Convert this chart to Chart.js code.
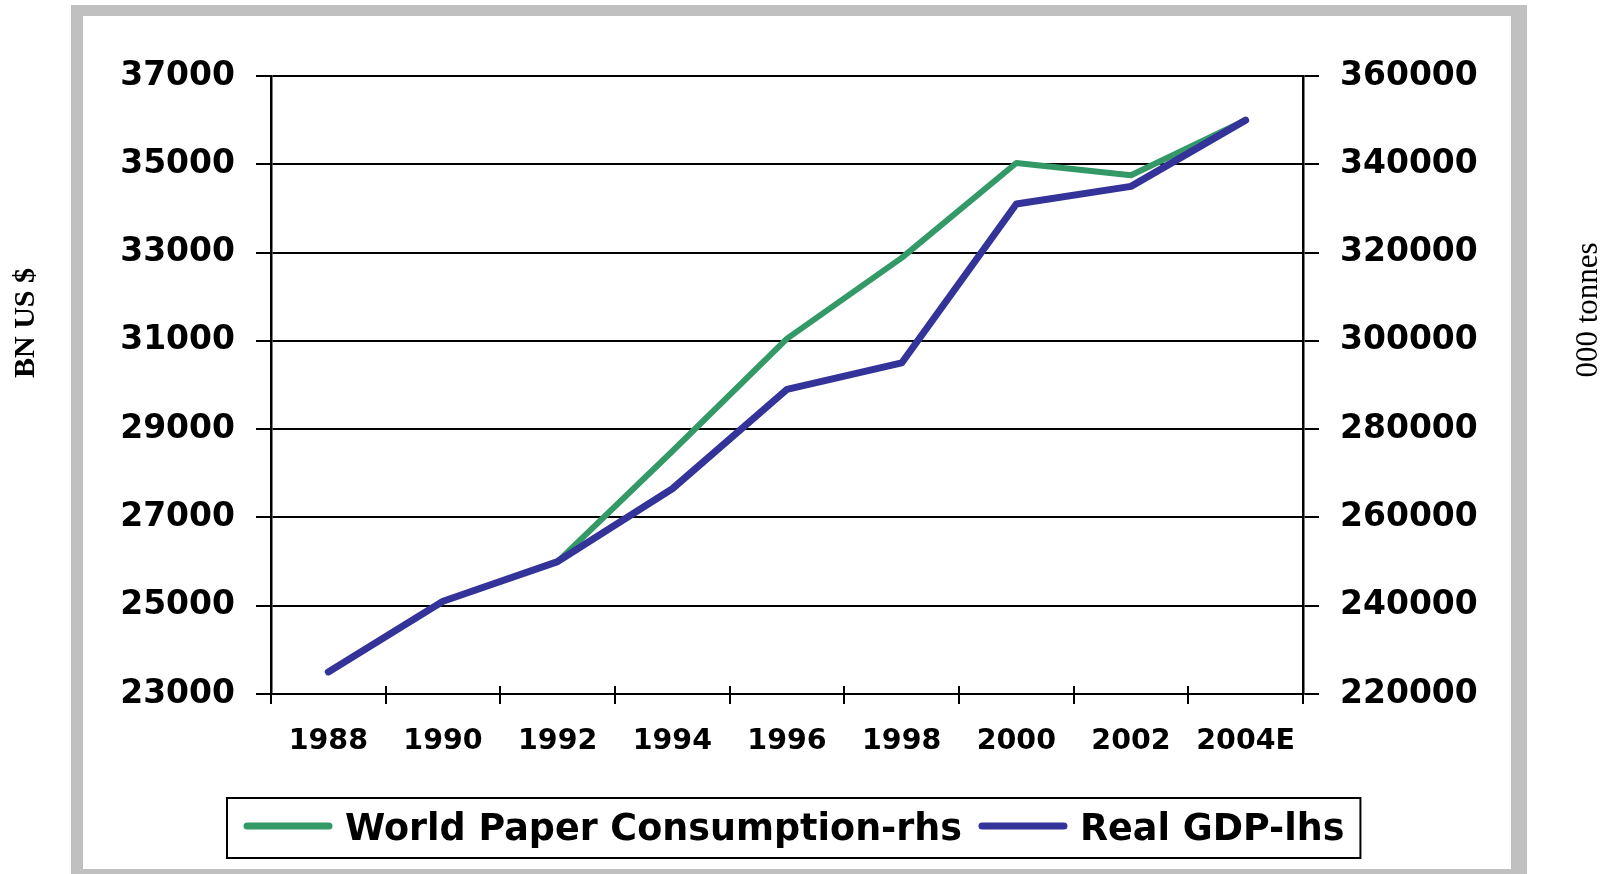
<!DOCTYPE html>
<html>
<head>
<meta charset="utf-8">
<script src="https://cdn.jsdelivr.net/npm/chart.js@4.4.0/dist/chart.umd.min.js"></script>
<style>
    html, body { margin: 0; padding: 0; background: #fff; }
    canvas { display: block; }
</style>
</head>
<body>
<canvas id="paperChart" width="1604" height="874"></canvas>
<script>
// Data
const years = ["1988", "1990", "1992", "1994", "1996", "1998", "2000", "2002", "2004E"];
const realGdp = [23500, 25100, 26000, 27650, 29900, 30500, 34100, 34500, 36000];          // lhs, BN US $
const paperConsumption = [null, null, 250000, 275000, 300500, 318800, 340300, 337500, 350000]; // rhs, 000 tonnes

const gdpRange = [23000, 37000, 2000];
const paperRange = [220000, 360000, 20000];

const leftTitle = "BN US $";
const rightTitle = "000 tonnes";

const greenLine = "#339966";
const blueLine = "#333399";

Chart.defaults.font.family = "'DejaVu Sans', sans-serif";
Chart.defaults.font.weight = "bold";
Chart.defaults.color = "#000";

// Grey frame, side titles, boxed legend, short tick marks above the x axis
const framePlugin = {
    id: "frame",
    beforeDraw(chart) {
        const ctx = chart.ctx;
        ctx.save();
        ctx.fillStyle = "#fff";
        ctx.fillRect(0, 0, chart.width, chart.height);
        ctx.fillStyle = "#c0c0c0";
        ctx.fillRect(71, 5, 1456, 900);
        ctx.fillStyle = "#fff";
        ctx.fillRect(83, 16, 1428, 853);
        ctx.restore();
    },
    afterDraw(chart) {
        const ctx = chart.ctx;
        const xScale = chart.scales.x;
        const area = chart.chartArea;

        ctx.save();

        // tick marks crossing the x axis
        ctx.strokeStyle = "#000";
        ctx.lineWidth = 2;
        for (let i = 0; i <= years.length; i++) {
            const px = Math.round(xScale.getPixelForValue(i - 0.5));
            ctx.beginPath();
            ctx.moveTo(px, area.bottom - 8);
            ctx.lineTo(px, area.bottom);
            ctx.stroke();
        }

        // axis titles
        ctx.fillStyle = "#000";
        ctx.textAlign = "center";
        ctx.textBaseline = "middle";

        ctx.save();
        ctx.translate(26, 323);
        ctx.rotate(-Math.PI / 2);
        ctx.font = "bold 30px 'Liberation Serif'";
        ctx.fillText(leftTitle, 0, 0);
        ctx.restore();

        ctx.save();
        ctx.translate(1589, 310);
        ctx.rotate(-Math.PI / 2);
        ctx.font = "31px 'Liberation Serif'";
        ctx.fillText(rightTitle, 0, 0);
        ctx.restore();

        // legend
        const sets = chart.data.datasets;
        ctx.font = "bold 36.5px 'DejaVu Sans'";
        const sampleLen = 90;
        const pad = 16;
        const gap = 12;
        const between = 16;
        let total = pad * 2;
        sets.forEach((ds, i) => {
            total += sampleLen + gap + ctx.measureText(ds.label).width;
            if (i > 0) total += between;
        });
        const boxTop = 798;
        const boxHeight = 60;
        const midY = boxTop + boxHeight / 2;
        const boxLeft = Math.round(794 - total / 2);

        ctx.lineWidth = 2;
        ctx.strokeStyle = "#000";
        ctx.strokeRect(boxLeft, boxTop, total, boxHeight);

        let cx = boxLeft + pad;
        ctx.textAlign = "left";
        sets.forEach((ds, i) => {
            if (i > 0) cx += between;
            ctx.strokeStyle = ds.borderColor;
            ctx.lineWidth = 7;
            ctx.lineCap = "round";
            ctx.beginPath();
            ctx.moveTo(cx + 4, midY - 2);
            ctx.lineTo(cx + sampleLen - 4, midY - 2);
            ctx.stroke();
            cx += sampleLen + gap;
            ctx.fillStyle = "#000";
            ctx.fillText(ds.label, cx, midY + 3);
            cx += ctx.measureText(ds.label).width;
        });

        ctx.restore();
    }
};

const ctx = document.getElementById("paperChart");

new Chart(ctx, {
    type: "line",
    data: {
        labels: years,
        datasets: [
            {
                label: "World Paper Consumption-rhs",
                data: paperConsumption,
                yAxisID: "y2",
                borderColor: greenLine,
                backgroundColor: greenLine,
                borderWidth: 6,
                borderCapStyle: "round",
                borderJoinStyle: "round",
                pointRadius: 0,
                tension: 0,
                order: 1
            },
            {
                label: "Real GDP-lhs",
                data: realGdp,
                yAxisID: "y",
                borderColor: blueLine,
                backgroundColor: blueLine,
                borderWidth: 7,
                borderCapStyle: "round",
                borderJoinStyle: "round",
                pointRadius: 0,
                tension: 0,
                order: 0
            }
        ]
    },
    options: {
        responsive: false,
        animation: false,
        layout: {
            padding: { left: 84, right: 0, top: 76, bottom: 120 }
        },
        plugins: {
            legend: { display: false },
            tooltip: { enabled: false }
        },
        scales: {
            x: {
                offset: true,
                afterFit: (scale) => { scale.height = 60; },
                grid: {
                    offset: true,
                    drawOnChartArea: false,
                    color: "#000",
                    lineWidth: 2,
                    tickLength: 10
                },
                border: { display: true, color: "#000", width: 2 },
                ticks: {
                    autoSkip: false,
                    maxRotation: 0,
                    padding: 20,
                    font: { size: 28.5, weight: "bold" }
                }
            },
            y: {
                position: "left",
                min: gdpRange[0],
                max: gdpRange[1],
                afterFit: (scale) => { scale.width = 187; },
                grid: {
                    color: "#000",
                    lineWidth: 2,
                    tickLength: 15
                },
                border: { display: true, color: "#000", width: 2.5 },
                ticks: {
                    stepSize: gdpRange[2],
                    padding: 21,
                    font: { size: 33, weight: "bold" },
                    callback: (v) => String(v)
                }
            },
            y2: {
                position: "right",
                min: paperRange[0],
                max: paperRange[1],
                afterFit: (scale) => { scale.width = 301; },
                grid: {
                    drawOnChartArea: false,
                    color: "#000",
                    lineWidth: 2,
                    tickLength: 16
                },
                border: { display: true, color: "#000", width: 2.5 },
                ticks: {
                    stepSize: paperRange[2],
                    padding: 21,
                    font: { size: 33, weight: "bold" },
                    callback: (v) => String(v)
                }
            }
        }
    },
    plugins: [framePlugin]
});
</script>
</body>
</html>
